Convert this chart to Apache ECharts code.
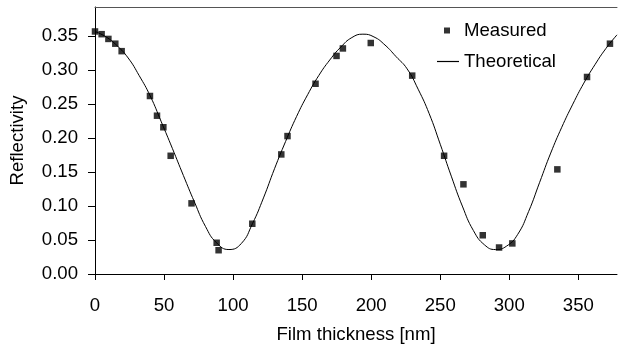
<!DOCTYPE html>
<html>
<head>
<meta charset="utf-8">
<script src="https://cdn.jsdelivr.net/npm/echarts@6/dist/echarts.min.js"></script>
<style>
  html, body { margin: 0; padding: 0; background: #fff; }
  #chart { width: 619px; height: 349px; }
</style>
</head>
<body>
<div id="chart"></div>
<script>
const xTicks = [0, 50, 100, 150, 200, 250, 300, 350];
const yTicks = [0, 0.05, 0.1, 0.15, 0.2, 0.25, 0.3, 0.35];

const measuredX = [0, 4.8, 9.7, 14.7, 19.3, 39.8, 44.9, 49.5, 54.8, 69.9, 88.1, 89.5, 113.9,
  134.9, 139.4, 159.7, 174.9, 179.5, 199.7, 229.7, 252.8, 266.8, 280.8, 292.6, 302.2,
  334.8, 356.3, 372.9];
const measuredY = [0.357, 0.353, 0.346, 0.339, 0.328, 0.262, 0.233, 0.216, 0.174, 0.104, 0.046, 0.035, 0.074,
  0.176, 0.203, 0.280, 0.321, 0.332, 0.340, 0.292, 0.174, 0.132, 0.057, 0.039, 0.045,
  0.154, 0.290, 0.339];

const theoryX = [0, 8, 16, 24, 32, 40, 48, 56, 64, 72, 80, 88, 97, 106, 114, 122, 130, 138, 146,
  154, 162, 170, 178, 186, 194, 202, 210, 218, 226, 234, 242, 250, 258, 266, 274, 282, 290,
  298, 306, 314, 322, 330, 338, 346, 354, 362, 370, 378];
const theoryY = [0.357, 0.349, 0.336, 0.318, 0.292, 0.262, 0.224, 0.185, 0.145, 0.106, 0.070, 0.046,
  0.036, 0.045, 0.074, 0.112, 0.155, 0.195, 0.232, 0.264, 0.292, 0.315, 0.334, 0.348, 0.353,
  0.349, 0.337, 0.320, 0.302, 0.272, 0.236, 0.191, 0.144, 0.100, 0.064, 0.043, 0.036, 0.041,
  0.058, 0.092, 0.135, 0.178, 0.216, 0.250, 0.281, 0.308, 0.332, 0.352];

const font = "'Liberation Sans', Arial, sans-serif";
const fs = 18.6;
const chart = echarts.init(document.getElementById('chart'), null, { renderer: 'canvas' });

chart.setOption({
  animation: false,
  backgroundColor: '#ffffff',
  textStyle: { fontFamily: font, color: '#000' },
  grid: { left: 94, right: 2, top: 7, bottom: 74 },
  legend: [
    {
      data: ['Measured'],
      left: 444, top: 21, padding: 0,
      icon: 'rect', itemWidth: 6, itemHeight: 6,
      textStyle: { fontFamily: font, fontSize: fs, color: '#000', padding: [0, 0, 0, 9] }
    },
    {
      data: ['Theoretical'],
      left: 437, top: 52, padding: 0,
      icon: 'rect', itemWidth: 22, itemHeight: 1.2,
      itemStyle: { color: '#000' },
      textStyle: { fontFamily: font, fontSize: fs, color: '#000' }
    }
  ],
  xAxis: [
    {
      type: 'value', min: 0, max: 378, interval: 50,
      name: 'Film thickness [nm]', nameLocation: 'middle', nameGap: 51,
      nameTextStyle: { fontFamily: font, fontSize: fs, color: '#000' },
      axisLine: { show: true, lineStyle: { color: '#000', width: 1 } },
      axisTick: { show: true, inside: false, length: 6, lineStyle: { color: '#000' }, customValues: xTicks },
      axisLabel: { fontFamily: font, fontSize: fs, color: '#000', margin: 22, customValues: xTicks },
      splitLine: { show: false }
    },
    {
      type: 'value', min: 0, max: 378, position: 'top',
      axisLine: { show: true, lineStyle: { color: '#555', width: 1 } },
      axisTick: { show: false }, axisLabel: { show: false }, splitLine: { show: false }
    }
  ],
  yAxis: {
    type: 'value', min: 0, max: 0.393, interval: 0.05,
    name: 'Reflectivity', nameLocation: 'middle', nameGap: 68,
    nameTextStyle: { fontFamily: font, fontSize: fs, color: '#000' },
    axisLine: { show: true, lineStyle: { color: '#000', width: 1 } },
    axisTick: { show: true, inside: false, length: 7, lineStyle: { color: '#000' }, customValues: yTicks },
    axisLabel: {
      fontFamily: font, fontSize: fs, color: '#000', margin: 17, customValues: yTicks,
      formatter: v => v.toFixed(2)
    },
    splitLine: { show: false }
  },
  series: [
    {
      name: 'Theoretical', type: 'line', smooth: 0.5,
      data: theoryX.map((x, i) => [x, theoryY[i]]),
      showSymbol: false, symbol: 'none',
      lineStyle: { color: '#000', width: 1 },
      itemStyle: { color: '#000' },
      z: 2
    },
    {
      name: 'Measured', type: 'scatter',
      data: measuredX.map((x, i) => [x, measuredY[i]]),
      symbol: 'rect', symbolSize: 6.5,
      itemStyle: { color: '#000' },
      clip: false,
      z: 3
    }
  ]
});
</script>
</body>
</html>
